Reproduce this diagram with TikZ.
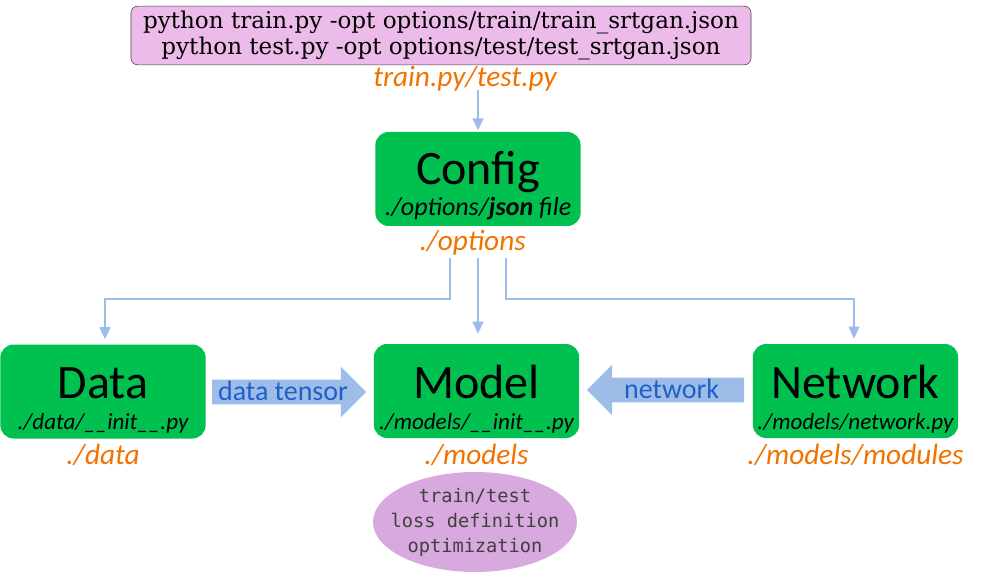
\documentclass[tikz,border=0pt]{standalone}
\usepackage{fontspec}
\setmainfont{Carlito}
\newfontfamily\cmdfont{DejaVu Serif}
\newfontfamily\codefont{DejaVu Sans Mono}
\usetikzlibrary{shapes,arrows.meta,positioning,calc}
\definecolor{boxgreen}{HTML}{00C050}
\definecolor{cmdpink}{HTML}{EDBBEA}
\definecolor{pathorange}{HTML}{F27200}
\definecolor{linkblue}{HTML}{9DBDE8}
\definecolor{textblue}{HTML}{1F5FC8}
\definecolor{ovalpurple}{HTML}{D8A9DE}

\begin{document}
\begin{tikzpicture}[x=0.75pt, y=-0.75pt]
  \tikzstyle{module}=[rectangle, rounded corners=10pt, fill=boxgreen, minimum width=154pt, minimum height=70.5pt, align=center, inner sep=0pt]
  \tikzstyle{folder}=[font=\fontsize{22}{24}\selectfont\itshape, text=pathorange, inner sep=0pt]
  \tikzstyle{flow}=[linkblue, line width=1.5pt, -{Triangle[length=9pt, width=8pt]}]
  \tikzstyle{pipe}=[single arrow, fill=linkblue, single arrow head extend=9.75pt, inner xsep=0pt, inner ysep=0.5pt, text height=15pt, text depth=2pt, text=textblue, font=\fontsize{21}{22}\selectfont]

  \useasboundingbox (0,0) rectangle (982,574);

  % commands
  \node[rectangle, rounded corners=5pt, draw=black!75, fill=cmdpink, minimum width=465pt, minimum height=44pt, align=center, font=\cmdfont\fontsize{17.3}{20}\selectfont] (cmd) at (441,35.5) {python train.py -opt options/train/train\_srtgan.json\\python test.py -opt options/test/test\_srtgan.json};
  \node[folder, below=1pt of cmd, xshift=18pt] (trainlbl) {train.py/test.py};

  % modules
  \node[module] (config) at (478,179) {{\fontsize{36}{38}\selectfont\rule{0pt}{35pt}Config}\\[2.5pt]{\fontsize{19.5}{20}\selectfont\itshape ./options/\textbf{json} file}};
  \node[folder, below=3pt of config, xshift=-4pt] (optlbl) {./options};

  \node[module] (data) at (103,391.5) {{\fontsize{36}{38}\selectfont\rule{0pt}{37pt}Data}\\[10pt]{\fontsize{17.3}{20}\selectfont\itshape ./data/\_\_init\_\_.py}};
  \node[folder, below=4pt of data] (datalbl) {./data};

  \node[module] (model) at (476.5,391) {{\fontsize{36}{38}\selectfont\rule{0pt}{37pt}Model}\\[10pt]{\fontsize{17.3}{20}\selectfont\itshape ./models/\_\_init\_\_.py}};
  \node[folder, below=4pt of model] (modellbl) {./models};

  \node[module] (network) at (855.5,391) {{\fontsize{36}{38}\selectfont\rule{0pt}{37pt}Network}\\[10pt]{\fontsize{17.3}{20}\selectfont\itshape ./models/network.py}};
  \node[folder, below=4pt of network] (netlbl) {./models/modules};

  % what the model does
  \node[ellipse, fill=ovalpurple, minimum width=153pt, minimum height=75pt, inner xsep=-10pt, inner ysep=0pt, align=center, text=black!75, font=\codefont\fontsize{14}{18.75}\selectfont] (loop) at (475,522) {train/test\\loss definition\\optimization};

  % connectors
  \draw[flow, shorten >=1pt] ($(config.north)+(0,-42)$) -- (config.north);
  \draw[flow, shorten >=3.75pt] ($(config.south)+(-28,32)$) -- ++(0,41) -| ($(data.north)+(2,0)$);
  \draw[flow, shorten >=7.5pt] ($(config.south)+(0,32)$) -- (config.south |- model.north);
  \draw[flow, shorten >=3.75pt] ($(config.south)+(28,32)$) -- ++(0,41) -| ($(network.north)+(-1.5,0)$);

  \node[pipe, minimum height=115.5pt, anchor=east] (tensor) at ($(model.west)+(-7,1)$) {data tensor};
  \node[pipe, shape border rotate=180, minimum height=118pt, anchor=west] (netarrow) at ($(model.east)+(7,-1)$) {network};
\end{tikzpicture}
\end{document}
